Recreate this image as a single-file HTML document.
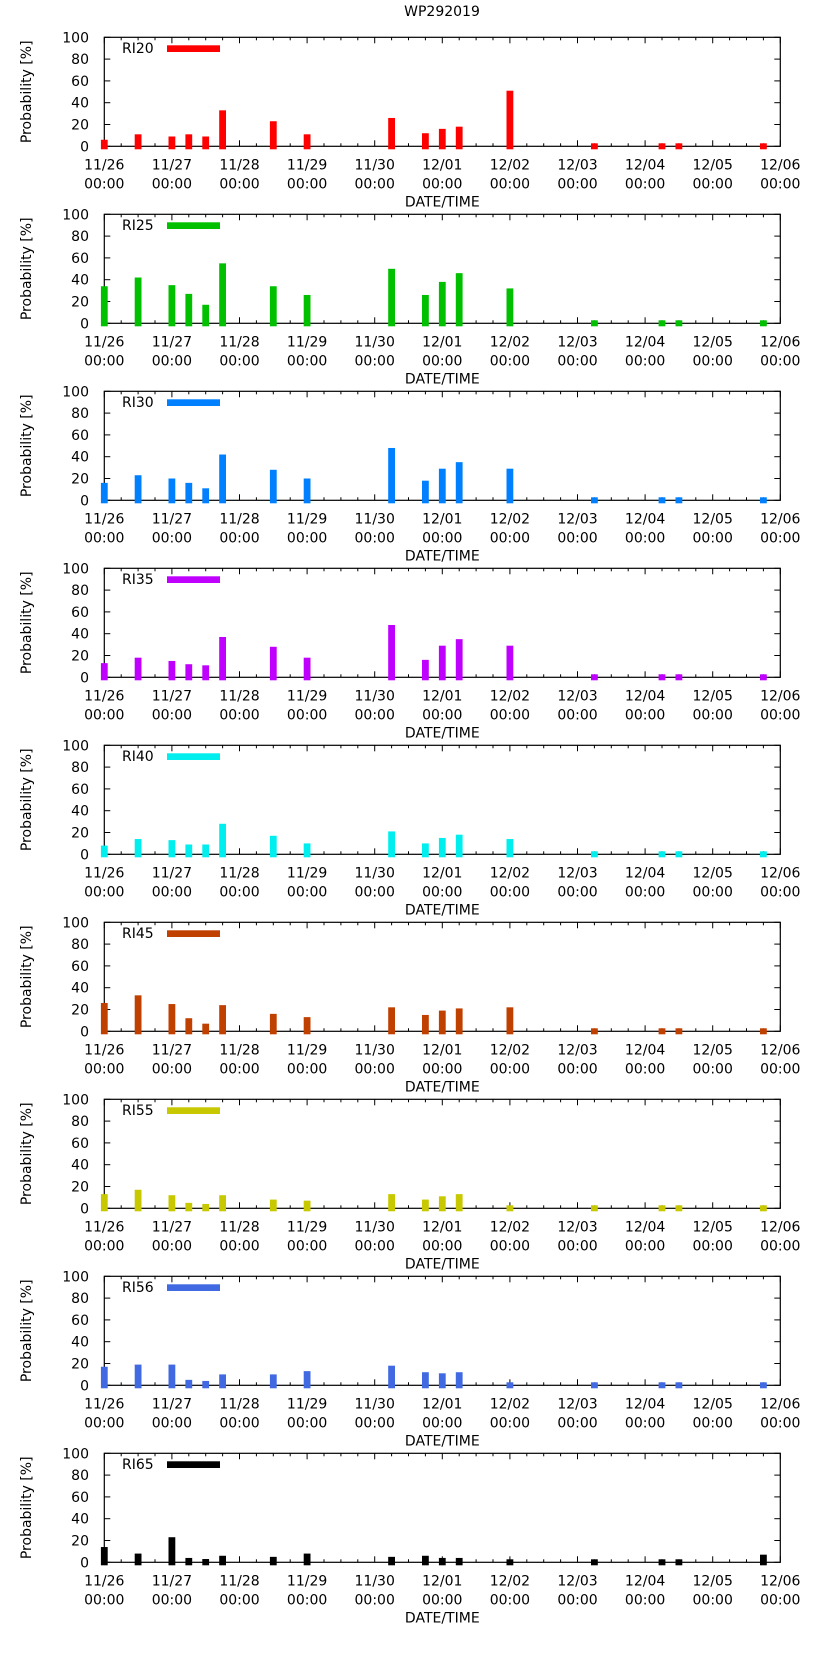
<!DOCTYPE html>
<html><head><meta charset="utf-8">
<style>
html,body{margin:0;padding:0;background:#fff;}
svg{display:block;font-family:"DejaVu Sans","Liberation Sans",sans-serif;}
</style></head>
<body>
<svg id="chart" width="823" height="1653" viewBox="0 0 823 1653" xmlns="http://www.w3.org/2000/svg">
<text x="442" y="16" font-size="14" text-anchor="middle">WP292019</text>
</svg>
<script>
// forecast hours since 11/26 00:00
const hours = [0,12,24,30,36,42,60,72,102,114,120,126,144,174,198,204,234];
const seriesNames = ["RI20","RI25","RI30","RI35","RI40","RI45","RI55","RI56","RI65"];
const seriesColors = ["#ff0000","#00c000","#0080ff","#c000ff","#00eeee","#c04000","#c8c800","#4169e1","#000000"];
const ri20 = [6,11,9,11,9,33,23,11,26,12,16,18,51,0,0,0,0];
const ri25 = [34,42,35,27,17,55,34,26,50,26,38,46,32,0,0,0,0];
const ri30 = [16,23,20,16,11,42,28,20,48,18,29,35,29,0,0,0,0];
const ri35 = [13,18,15,12,11,37,28,18,48,16,29,35,29,0,0,0,0];
const ri40 = [8,14,13,9,9,28,17,10,21,10,15,18,14,0,0,0,0];
const ri45 = [26,33,25,12,7,24,16,13,22,15,19,21,22,0,0,0,2];
const ri55 = [13,17,12,5,4,12,8,7,13,8,11,13,0,0,0,0,0];
const ri56 = [17,19,19,5,4,10,10,13,18,12,11,12,0,0,0,0,2];
const ri65 = [14,8,23,4,3,6,5,8,5,6,4,4,0,0,0,0,7];
const allSeries = [ri20,ri25,ri30,ri35,ri40,ri45,ri55,ri56,ri65];
const xTickLabels = ["11/26","11/27","11/28","11/29","11/30","12/01","12/02","12/03","12/04","12/05","12/06"];
const yTickLabels = [0,20,40,60,80,100];

const NS="http://www.w3.org/2000/svg";
const svg=document.getElementById('chart');
const L=104.3,R=780.3,PH=109,PITCH=177,TOP0=37.3;
const xScale=h=>L+(R-L)*h/240;
function mk(tag,attrs,parent){const e=document.createElementNS(NS,tag);for(const k in attrs)e.setAttribute(k,attrs[k]);(parent||svg).appendChild(e);return e;}

allSeries.forEach((vals,i)=>{
  const top=TOP0+PITCH*i, axis=top+PH;
  const yScale=v=>axis-PH*v/100;
  const g=mk('g',{});
  
  
  // frame
  const fr=mk('rect',{x:L,y:top,width:R-L,height:PH,fill:'none',stroke:'#000','stroke-width':1.2},g);
  
  
  // y ticks
  yTickLabels.forEach(t=>{
    const y=yScale(t);
    mk('line',{x1:L,x2:L+6,y1:y,y2:y,stroke:'#000','stroke-width':1},g);
    mk('line',{x1:R,x2:R-6,y1:y,y2:y,stroke:'#000','stroke-width':1},g);
    const tx=mk('text',{x:89,y:y+5,'font-size':14,'text-anchor':'end'},g);
    tx.textContent=t;
    
    
  });
  // x ticks
  for(let h=0;h<=240;h+=6){
    const x=xScale(h), len=(h%24===0)?6:3;
    mk('line',{x1:x,x2:x,y1:axis,y2:axis-len,stroke:'#000','stroke-width':1},g);
    mk('line',{x1:x,x2:x,y1:top,y2:top+len,stroke:'#000','stroke-width':1},g);
  }
  // bars (drawn over frame and ticks)
  vals.forEach((v,j)=>{
    const x=xScale(hours[j]);
    const yt=Math.min(yScale(v),axis-3);
    const b=mk('rect',{x:x-3.4,y:yt,width:6.8,height:axis+3-yt,fill:seriesColors[i]},g);
    
    
  });
  xTickLabels.forEach((lab,k)=>{
    const x=xScale(k*24);
    const t1=mk('text',{x:x,y:axis+23,'font-size':14,'text-anchor':'middle'},g);
    t1.textContent=lab;
    
    
    const t2=mk('text',{x:x,y:axis+42,'font-size':14,'text-anchor':'middle'},g);
    t2.textContent='00:00';
    
    
  });
  const xt=mk('text',{x:(L+R)/2,y:axis+60,'font-size':14,'text-anchor':'middle'},g);
  xt.textContent='DATE/TIME';
  
  
  const cy=top+PH/2;
  const yt=mk('text',{x:31,y:cy,'font-size':14,'text-anchor':'middle',transform:'rotate(-90 31 '+cy+')'},g);
  yt.textContent='Probability [%]';
  
  
  // legend
  const lt=mk('text',{x:122,y:top+15.5,'font-size':14},g);
  lt.textContent=seriesNames[i];
  
  
  const ls=mk('rect',{x:167,y:top+8,width:53,height:6.7,fill:seriesColors[i]},g);
  
  
});
</script>
</body></html>
